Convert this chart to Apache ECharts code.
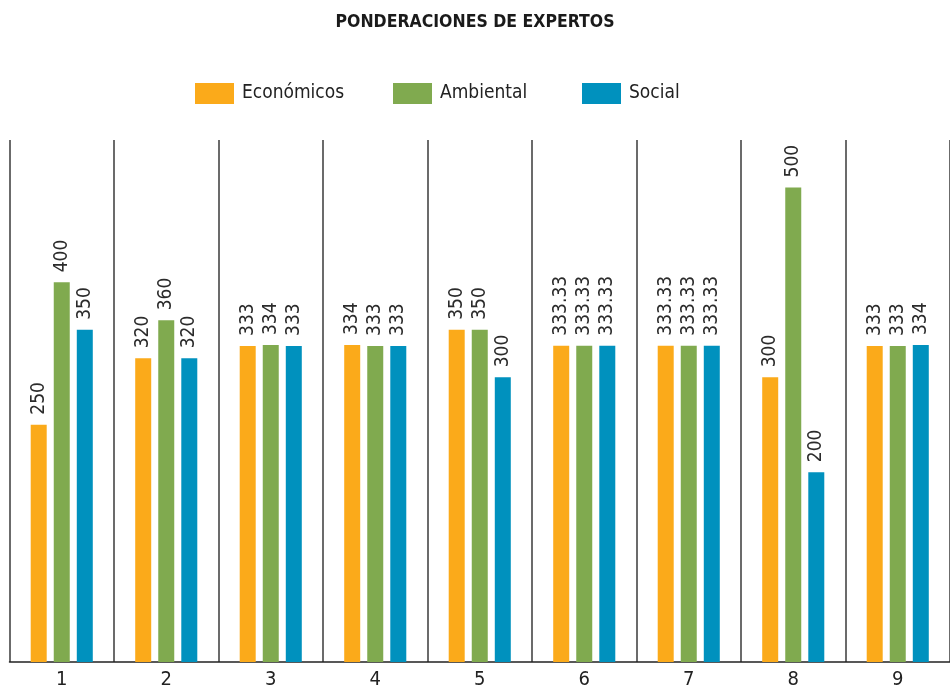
<!DOCTYPE html>
<html>
<head>
<meta charset="utf-8">
<title>Ponderaciones de expertos</title>
<script src="https://cdn.jsdelivr.net/npm/echarts@6/dist/echarts.min.js"></script>
<style>
	html, body { margin: 0; padding: 0; background: #fff; }
	#chart { width: 950px; height: 691px; }
</style>
</head>
<body>
<div id="chart"></div>
<script type="text/javascript">
	var categories = ['1', '2', '3', '4', '5', '6', '7', '8', '9'];
	var seriesNames = ['Económicos', 'Ambiental', 'Social'];
	var economicos = [250, 320, 333, 334, 350, 333.33, 333.33, 300, 333];
	var ambiental  = [400, 360, 334, 333, 350, 333.33, 333.33, 500, 333];
	var social     = [350, 320, 333, 333, 300, 333.33, 333.33, 200, 334];

	var fontFam = '"Liberation Sans Narrow", "DejaVu Sans Condensed", "Roboto", sans-serif';

	var barLabel = {
		show: true,
		position: 'top',
		rotate: 90,
		align: 'left',
		verticalAlign: 'middle',
		distance: 10,
		fontFamily: fontFam,
		fontSize: 19,
		color: '#2b2b2b'
	};

	function makeSeries(name, data, color) {
		return {
			name: name,
			type: 'bar',
			data: data,
			barWidth: 16,
			barGap: '44%',
			itemStyle: { color: color },
			label: barLabel
		};
	}

	// one legend per item so each sits where the original puts it
	function makeLegend(name, left) {
		return {
			data: [name],
			left: left,
			top: 78,
			itemWidth: 39,
			itemHeight: 21,
			icon: 'rect',
			textStyle: { fontFamily: fontFam, fontSize: 19, color: '#222', padding: [0, 0, 0, 3] }
		};
	}

	var option = {
		animation: false,
		textStyle: { fontFamily: fontFam },
		title: {
			text: 'PONDERACIONES DE EXPERTOS',
			left: 'center',
			top: 8,
			textStyle: { fontFamily: fontFam, fontSize: 17.5, fontWeight: 'bold', color: '#1a1a1a' }
		},
		legend: [
			makeLegend(seriesNames[0], 190),
			makeLegend(seriesNames[1], 388),
			makeLegend(seriesNames[2], 577)
		],
		grid: {
			left: 9.5,
			right: 0,
			top: 140,
			bottom: 29
		},
		xAxis: {
			type: 'category',
			data: categories,
			boundaryGap: true,
			axisLine: { lineStyle: { color: '#222', width: 1.5 } },
			axisTick: { show: false },
			axisLabel: { fontFamily: fontFam, fontSize: 20, color: '#222', margin: 8 },
			splitLine: { show: true, lineStyle: { color: '#3a3a3a', width: 1.5 } }
		},
		yAxis: {
			type: 'value',
			min: 0,
			max: 550,
			show: false,
			splitLine: { show: false }
		},
		series: [
			makeSeries(seriesNames[0], economicos, '#FBAA1A'),
			makeSeries(seriesNames[1], ambiental, '#80AA4F'),
			makeSeries(seriesNames[2], social, '#0091BE')
		]
	};

	var myChart = echarts.init(document.getElementById('chart'));
	myChart.setOption(option);
</script>
</body>
</html>
